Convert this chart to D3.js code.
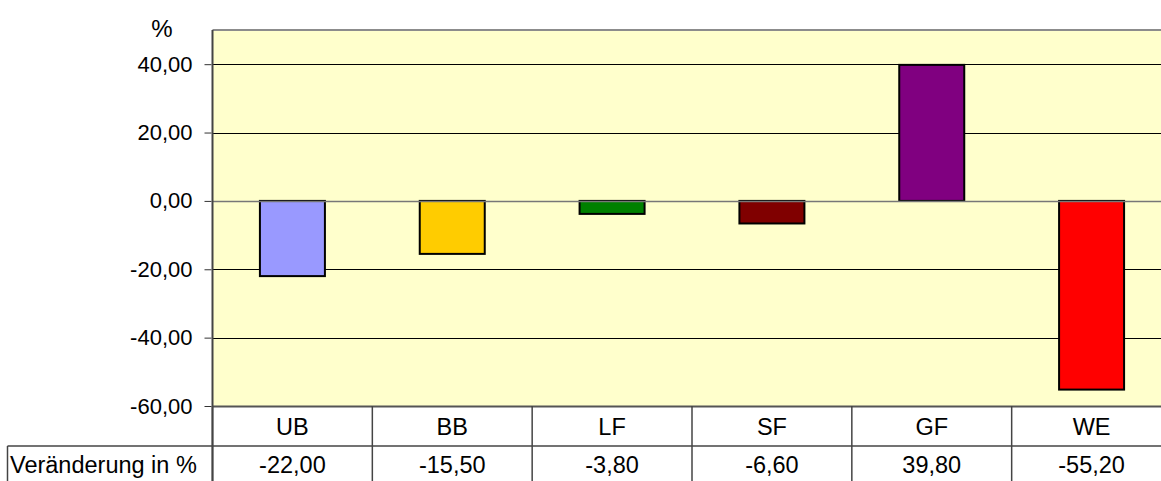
<!DOCTYPE html>
<html>
<head>
<meta charset="utf-8">
<script src="https://cdn.jsdelivr.net/npm/d3@7"></script>
<style>
  html, body { margin: 0; padding: 0; background: #ffffff; }
  svg { display: block; font-family: Arial, "Liberation Sans", sans-serif; }
</style>
</head>
<body>
<svg id="chart" width="1161" height="481"></svg>
<script>
// Regions and their percentage change
const categories = ["UB", "BB", "LF", "SF", "GF", "WE"];
const values = [-22.0, -15.5, -3.8, -6.6, 39.8, -55.2];
const barColors = ["#9999FF", "#FFCC00", "#008000", "#800000", "#800080", "#FF0000"];
const yTicks = [-60, -40, -20, 0, 20, 40];
const rowLabel = "Veränderung in %";
const unitLabel = "%";

const fmt = v => d3.format(".2f")(v).replace(".", ",").replace("−", "-");

const svg = d3.select("#chart");
const plot = { left: 212.5, right: 1171.5, top: 30, bottom: 406 };
const tableRow1 = 406, tableRow2 = 446, tableBottom = 490;
const tableFont = 23.5, tickFont = 22;

const x = d3.scaleBand().domain(categories).range([plot.left, plot.right]).paddingInner(0).paddingOuter(0);
const y = d3.scaleLinear().domain([-60, 50]).range([plot.bottom, plot.top]);
const barW = 65;

// Plot background
svg.append("rect")
  .attr("x", plot.left).attr("y", plot.top)
  .attr("width", plot.right - plot.left).attr("height", plot.bottom - plot.top)
  .attr("fill", "#FFFFCC");

// Horizontal gridlines
svg.append("g").selectAll("line").data(yTicks.filter(t => t !== -60 && t !== 0)).join("line")
  .attr("x1", plot.left).attr("x2", plot.right)
  .attr("y1", d => Math.round(y(d)) + 0.5).attr("y2", d => Math.round(y(d)) + 0.5)
  .attr("stroke", "#000").attr("stroke-width", 1);

// Top border of the plot
svg.append("line")
  .attr("x1", plot.left).attr("x2", plot.right)
  .attr("y1", plot.top).attr("y2", plot.top)
  .attr("stroke", "#8c8c8c").attr("stroke-width", 2);

// Bars
svg.append("g").selectAll("rect").data(values).join("rect")
  .attr("x", (d, i) => x(categories[i]) + x.bandwidth() / 2 - barW / 2)
  .attr("y", d => y(Math.max(0, d)))
  .attr("width", barW)
  .attr("height", d => Math.abs(y(d) - y(0)))
  .attr("fill", (d, i) => barColors[i])
  .attr("stroke", "#000").attr("stroke-width", 2);

// Zero line
svg.append("line")
  .attr("x1", plot.left).attr("x2", plot.right)
  .attr("y1", Math.round(y(0)) + 0.5).attr("y2", Math.round(y(0)) + 0.5)
  .attr("stroke", "#777").attr("stroke-width", 1.5);

// Y axis
const yAxis = d3.axisLeft(y).tickValues(yTicks).tickSize(7).tickPadding(12).tickFormat(fmt);
const gy = svg.append("g").attr("transform", `translate(${plot.left - 1},0)`).call(yAxis);
gy.select(".domain").remove();
gy.selectAll(".tick line").attr("stroke", "#333");
gy.selectAll(".tick text").attr("font-size", tickFont).attr("fill", "#000")
  .attr("font-family", "Arial, 'Liberation Sans', sans-serif");

svg.append("text").attr("x", 162).attr("y", 37)
  .attr("text-anchor", "middle").attr("font-size", 24).text(unitLabel);

// Data table below the plot
const grid = svg.append("g").attr("stroke", "#444").attr("stroke-width", 1.5);
grid.append("line").attr("x1", plot.left).attr("x2", plot.right)
  .attr("y1", tableRow1 + 0.5).attr("y2", tableRow1 + 0.5).attr("stroke", "#555").attr("stroke-width", 2);
grid.append("line").attr("x1", 7.5).attr("x2", plot.right)
  .attr("y1", tableRow2).attr("y2", tableRow2);
grid.append("line").attr("x1", 7.5).attr("x2", 7.5)
  .attr("y1", tableRow2).attr("y2", tableBottom);
grid.selectAll("line.sep").data(categories).join("line").attr("class", "sep")
  .attr("x1", d => x(d)).attr("x2", d => x(d))
  .attr("y1", tableRow1).attr("y2", tableBottom);

// Axis line (spans plot and table)
svg.append("line").attr("x1", plot.left).attr("x2", plot.left)
  .attr("y1", plot.top).attr("y2", tableBottom)
  .attr("stroke", "#444").attr("stroke-width", 2);

svg.append("g").selectAll("text").data(categories).join("text")
  .attr("x", d => x(d) + x.bandwidth() / 2).attr("y", tableRow1 + 29)
  .attr("text-anchor", "middle").attr("font-size", tableFont).text(d => d);

svg.append("g").selectAll("text").data(values).join("text")
  .attr("x", (d, i) => x(categories[i]) + x.bandwidth() / 2).attr("y", tableRow2 + 27)
  .attr("text-anchor", "middle").attr("font-size", tableFont).text(d => fmt(d));

svg.append("text").attr("x", 10).attr("y", tableRow2 + 27)
  .attr("font-size", tableFont).text(rowLabel);
</script>
</body>
</html>
